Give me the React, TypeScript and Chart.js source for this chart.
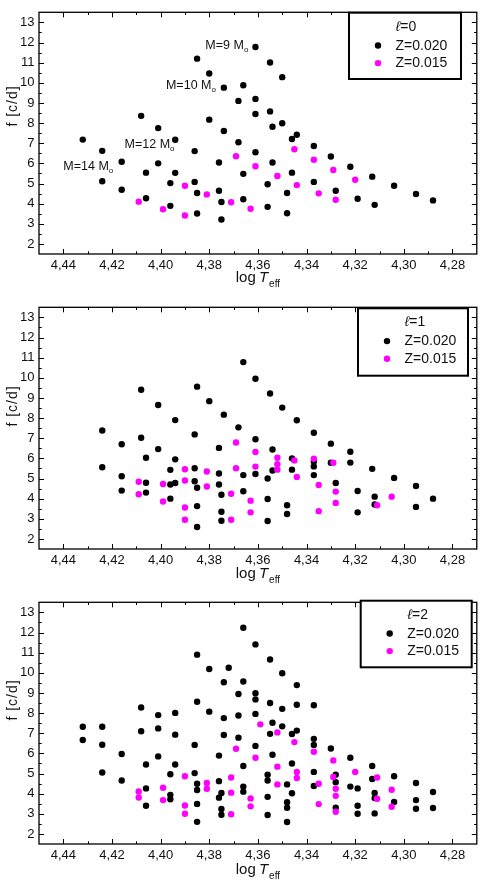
import React, { useEffect, useRef } from "react";
import { Chart, registerables } from "chart.js";

Chart.register(...registerables);

// ---------- axes ----------
const X_MIN = 4.27;
const X_MAX = 4.45;
const Y_MIN = 1.5;
const Y_MAX = 13.5;
const X_TICKS = [4.44, 4.42, 4.4, 4.38, 4.36, 4.34, 4.32, 4.3, 4.28];
const Y_TICKS = [2, 3, 4, 5, 6, 7, 8, 9, 10, 11, 12, 13];
const X_MINOR = [4.43, 4.41, 4.39, 4.37, 4.35, 4.33, 4.31, 4.29];
const Y_MINOR = [2.5, 3.5, 4.5, 5.5, 6.5, 7.5, 8.5, 9.5, 10.5, 11.5, 12.5];

const SERIES_LABELS = ["Z=0.020", "Z=0.015"];
const SERIES_COLORS = ["#000000", "#ff00ff"];
const ELL_LABELS = ["0", "1", "2"];

// ---------- l = 0 ----------
const L0_Z020: [number, number][] = [
  [4.432, 7.18], [4.424, 6.62], [4.424, 5.11], [4.416, 6.08], [4.416, 4.69],
  [4.408, 8.36], [4.406, 5.54], [4.406, 4.27], [4.401, 7.75], [4.401, 6.0],
  [4.394, 7.17], [4.394, 5.53], [4.396, 5.02], [4.396, 3.89], [4.385, 11.2],
  [4.386, 6.61], [4.386, 5.08], [4.385, 4.53], [4.385, 3.51], [4.38, 10.46],
  [4.38, 8.17], [4.376, 6.04], [4.376, 4.64], [4.375, 4.08], [4.375, 3.21],
  [4.374, 9.76], [4.374, 7.61], [4.368, 9.1], [4.368, 7.05], [4.366, 9.88],
  [4.366, 5.48], [4.366, 4.22], [4.361, 11.78], [4.361, 9.2], [4.361, 8.45],
  [4.361, 6.55], [4.355, 11.01], [4.355, 8.58], [4.354, 7.82], [4.354, 6.04],
  [4.356, 4.96], [4.356, 3.84], [4.35, 10.28], [4.35, 7.99], [4.348, 4.53],
  [4.348, 3.52], [4.346, 7.21], [4.344, 7.42], [4.346, 5.54], [4.337, 6.86],
  [4.337, 5.08], [4.33, 6.34], [4.328, 4.64], [4.322, 5.83], [4.319, 4.24],
  [4.313, 5.34], [4.312, 3.94], [4.304, 4.89], [4.295, 4.48], [4.288, 4.16],
];
const L0_Z015: [number, number][] = [
  [4.409, 4.1], [4.399, 3.72], [4.39, 4.89], [4.39, 3.41], [4.381, 4.46],
  [4.371, 4.07], [4.369, 6.35], [4.363, 3.75], [4.361, 5.86], [4.352, 5.37],
  [4.345, 6.7], [4.344, 4.92], [4.337, 6.18], [4.335, 4.51], [4.329, 5.67],
  [4.328, 4.19], [4.32, 5.19],
];

// ---------- l = 1 ----------
const L1_Z020: [number, number][] = [
  [4.424, 7.38], [4.424, 5.56], [4.416, 6.7], [4.416, 5.11], [4.416, 4.4],
  [4.408, 9.41], [4.408, 7.02], [4.406, 6.03], [4.406, 4.79], [4.406, 4.3],
  [4.401, 8.65], [4.401, 6.46], [4.394, 7.9], [4.394, 5.95], [4.396, 5.43],
  [4.396, 4.7], [4.394, 4.78], [4.396, 4.0], [4.385, 9.56], [4.386, 7.19],
  [4.386, 5.51], [4.386, 4.86], [4.385, 4.54], [4.385, 3.63], [4.385, 2.59],
  [4.38, 8.84], [4.376, 6.52], [4.376, 5.25], [4.376, 4.7], [4.375, 4.19],
  [4.375, 3.35], [4.375, 2.9], [4.374, 8.17], [4.368, 7.54], [4.366, 10.78],
  [4.366, 5.17], [4.366, 4.37], [4.361, 9.95], [4.361, 6.95], [4.361, 5.22],
  [4.355, 9.22], [4.354, 6.44], [4.354, 5.4], [4.356, 5.0], [4.356, 3.98],
  [4.356, 2.89], [4.35, 8.52], [4.348, 3.67], [4.348, 3.24], [4.346, 6.0],
  [4.346, 5.44], [4.344, 7.89], [4.337, 7.27], [4.337, 5.84], [4.337, 5.6],
  [4.337, 5.17], [4.33, 6.73], [4.33, 5.78], [4.328, 4.78], [4.322, 6.33],
  [4.322, 5.79], [4.319, 4.38], [4.319, 3.32], [4.313, 5.48], [4.312, 4.1],
  [4.312, 3.71], [4.304, 5.03], [4.295, 4.63], [4.295, 3.59], [4.288, 4.0],
];
const L1_Z015: [number, number][] = [
  [4.409, 4.84], [4.409, 4.22], [4.399, 4.73], [4.399, 3.86], [4.39, 5.46],
  [4.39, 4.9], [4.39, 3.56], [4.39, 2.95], [4.381, 5.35], [4.381, 4.6],
  [4.371, 4.24], [4.371, 2.95], [4.369, 6.79], [4.369, 5.51], [4.363, 3.9],
  [4.363, 3.32], [4.361, 6.32], [4.361, 5.59], [4.352, 6.03], [4.352, 5.71],
  [4.352, 5.44], [4.345, 5.9], [4.344, 5.08], [4.337, 5.98], [4.335, 4.68],
  [4.335, 3.38], [4.329, 5.78], [4.328, 4.35], [4.328, 3.79], [4.311, 3.67],
  [4.305, 4.1],
];

// ---------- l = 2 ----------
const L2_Z020: [number, number][] = [
  [4.432, 7.32], [4.432, 6.66], [4.424, 7.32], [4.424, 6.43], [4.424, 5.05],
  [4.416, 5.97], [4.416, 4.65], [4.408, 8.28], [4.408, 7.1], [4.406, 5.45],
  [4.406, 4.26], [4.406, 3.4], [4.401, 7.9], [4.401, 7.24], [4.401, 5.85],
  [4.394, 8.01], [4.394, 6.93], [4.394, 5.45], [4.396, 4.96], [4.396, 3.94],
  [4.396, 3.72], [4.385, 10.9], [4.385, 8.56], [4.386, 6.42], [4.386, 5.02],
  [4.385, 4.49], [4.385, 4.18], [4.385, 3.49], [4.385, 2.6], [4.38, 10.19],
  [4.38, 8.07], [4.376, 5.89], [4.376, 4.62], [4.376, 3.8], [4.375, 4.03],
  [4.375, 3.24], [4.375, 2.95], [4.374, 9.53], [4.374, 7.75], [4.374, 6.91],
  [4.372, 10.25], [4.368, 8.95], [4.368, 7.88], [4.368, 6.78], [4.366, 12.24],
  [4.366, 9.57], [4.366, 5.37], [4.366, 4.35], [4.366, 4.1], [4.361, 11.41],
  [4.361, 8.99], [4.361, 8.68], [4.361, 7.96], [4.361, 6.37], [4.355, 10.66],
  [4.355, 8.5], [4.354, 7.52], [4.355, 6.97], [4.354, 5.93], [4.356, 4.94],
  [4.356, 4.65], [4.356, 3.84], [4.356, 2.94], [4.35, 9.98], [4.35, 8.21],
  [4.35, 7.34], [4.348, 4.46], [4.348, 3.57], [4.348, 3.3], [4.348, 2.59],
  [4.346, 6.96], [4.346, 5.5], [4.346, 4.02], [4.344, 9.39], [4.344, 8.41],
  [4.344, 7.13], [4.337, 8.39], [4.337, 6.72], [4.337, 6.42], [4.337, 5.08],
  [4.337, 4.38], [4.33, 6.24], [4.328, 4.94], [4.328, 4.57], [4.328, 3.3],
  [4.322, 5.78], [4.322, 4.35], [4.319, 4.26], [4.319, 3.4], [4.319, 3.0],
  [4.313, 5.37], [4.313, 4.73], [4.312, 4.03], [4.312, 3.78], [4.312, 3.02],
  [4.304, 4.86], [4.304, 3.59], [4.295, 4.53], [4.295, 3.68], [4.295, 3.25],
  [4.288, 4.08], [4.288, 3.29],
];
const L2_Z015: [number, number][] = [
  [4.409, 4.11], [4.409, 3.81], [4.399, 4.29], [4.399, 3.68], [4.39, 4.86],
  [4.39, 3.41], [4.39, 3.0], [4.381, 4.53], [4.381, 4.24], [4.371, 4.8],
  [4.371, 4.05], [4.371, 2.98], [4.369, 6.23], [4.363, 3.76], [4.363, 3.37],
  [4.359, 7.44], [4.361, 5.78], [4.352, 7.04], [4.352, 5.34], [4.352, 4.46],
  [4.345, 6.56], [4.344, 5.08], [4.344, 4.78], [4.337, 6.08], [4.335, 4.49],
  [4.335, 3.48], [4.329, 5.65], [4.329, 4.83], [4.328, 4.24], [4.328, 3.89],
  [4.328, 3.1], [4.32, 5.08], [4.311, 4.8], [4.311, 3.75], [4.305, 4.19],
  [4.305, 3.35],
];

// mass-track annotations (panel l=0): label mass, left x value, baseline y value
const MASS_LABELS = ["M=9 M", "M=10 M", "M=12 M", "M=14 M"];
const MASS_LABEL_X = [4.3816, 4.3978, 4.4148, 4.44];
const MASS_LABEL_Y = [11.7, 9.71, 6.77, 5.65];

const FONT = "'Liberation Sans', Arial, Helvetica, sans-serif";

type Panel = {
  top: number;
  height: number;
  series: [number, number][][];
  ell: string;
  box: { x: number; y: number; w: number; h: number };
  yTitleCenter: number;
  xTitleBase: number;
  annotate: boolean;
};

const PANELS: Panel[] = [
  { top: 0, height: 295, series: [L0_Z020, L0_Z015], ell: ELL_LABELS[0], box: { x: 349, y: 12.7, w: 112, h: 66.3 }, yTitleCenter: 106, xTitleBase: 282, annotate: true },
  { top: 295, height: 295, series: [L1_Z020, L1_Z015], ell: ELL_LABELS[1], box: { x: 358, y: 13.3, w: 110, h: 67.4 }, yTitleCenter: 111, xTitleBase: 283, annotate: false },
  { top: 590, height: 292, series: [L2_Z020, L2_Z015], ell: ELL_LABELS[2], box: { x: 360.7, y: 10.7, w: 111, h: 66.6 }, yTitleCenter: 110, xTitleBase: 284, annotate: false },
];

const PLOT_TOP = 3;
const PLOT_BOTTOM = 254;

function makeDecor(panel: Panel) {
  return {
    id: "decor",
    afterDraw(chart: any) {
      const ctx: CanvasRenderingContext2D = chart.ctx;
      const { left, right, top, bottom } = chart.chartArea;
      const xs = chart.scales.x;
      const ys = chart.scales.y;
      ctx.save();
      // frame
      ctx.strokeStyle = "#000";
      ctx.lineWidth = 1.3;
      ctx.strokeRect(left, top, right - left, bottom - top);
      // ticks (inward)
      ctx.lineWidth = 1;
      ctx.beginPath();
      const tickX = (v: number, len: number) => {
        const p = Math.round(xs.getPixelForValue(v)) + 0.5;
        ctx.moveTo(p, bottom);
        ctx.lineTo(p, bottom - len);
        ctx.moveTo(p, top);
        ctx.lineTo(p, top + len);
      };
      const tickY = (v: number, len: number) => {
        const p = Math.round(ys.getPixelForValue(v)) + 0.5;
        ctx.moveTo(left, p);
        ctx.lineTo(left + len, p);
        ctx.moveTo(right, p);
        ctx.lineTo(right - len, p);
      };
      X_TICKS.forEach((v) => tickX(v, 5));
      X_MINOR.forEach((v) => tickX(v, 2.7));
      Y_TICKS.forEach((v) => tickY(v, 5));
      Y_MINOR.forEach((v) => tickY(v, 2.7));
      ctx.stroke();

      // y title
      ctx.fillStyle = "#111";
      ctx.save();
      ctx.translate(13, panel.yTitleCenter);
      ctx.rotate(-Math.PI / 2);
      ctx.font = `14px ${FONT}`;
      (ctx as any).letterSpacing = "1px";
      ctx.textAlign = "center";
      ctx.textBaseline = "middle";
      ctx.fillText("f [c/d]", 0, 0);
      ctx.restore();

      // x title: log T_eff
      const base = panel.xTitleBase;
      ctx.textBaseline = "alphabetic";
      ctx.textAlign = "left";
      const f1 = `15px ${FONT}`;
      const f2 = `italic 15px ${FONT}`;
      const f3 = `10px ${FONT}`;
      ctx.font = f1;
      const w1 = ctx.measureText("log ").width;
      ctx.font = f2;
      const w2 = ctx.measureText("T").width;
      ctx.font = f3;
      const w3 = ctx.measureText("eff").width;
      let cx = (left + right) / 2 - (w1 + w2 + w3) / 2;
      ctx.font = f1;
      ctx.fillText("log ", cx, base);
      cx += w1 - 1;
      ctx.font = f2;
      ctx.fillText("T", cx, base);
      cx += w2 + 1;
      ctx.font = f3;
      ctx.fillText("eff", cx, base + 5);

      // legend box
      const b = panel.box;
      ctx.lineWidth = 2;
      ctx.strokeStyle = "#000";
      ctx.fillStyle = "#fff";
      ctx.fillRect(b.x, b.y, b.w, b.h);
      ctx.strokeRect(b.x, b.y, b.w, b.h);
      ctx.fillStyle = "#111";
      ctx.textBaseline = "middle";
      ctx.font = `italic 14px ${FONT}`;
      const wl = ctx.measureText("ℓ").width;
      ctx.font = `14px ${FONT}`;
      const we = ctx.measureText("=" + panel.ell).width;
      let lx = b.x + 57 - (wl + we) / 2;
      ctx.font = `italic 14px ${FONT}`;
      ctx.fillText("ℓ", lx, b.y + 14);
      ctx.font = `14px ${FONT}`;
      ctx.fillText("=" + panel.ell, lx + wl, b.y + 14);
      SERIES_LABELS.forEach((lab, i) => {
        const yy = b.y + 32.8 + i * 17.6;
        ctx.fillStyle = SERIES_COLORS[i];
        ctx.beginPath();
        ctx.arc(b.x + 29, yy, 3.2, 0, Math.PI * 2);
        ctx.fill();
        ctx.fillStyle = "#111";
        ctx.font = `14px ${FONT}`;
        ctx.fillText(lab, b.x + 46.5, yy + 0.5);
      });

      // mass annotations
      if (panel.annotate) {
        ctx.textBaseline = "alphabetic";
        MASS_LABELS.forEach((lab, i) => {
          const px = xs.getPixelForValue(MASS_LABEL_X[i]);
          const py = ys.getPixelForValue(MASS_LABEL_Y[i]);
          ctx.font = `12.5px ${FONT}`;
          ctx.fillStyle = "#111";
          ctx.fillText(lab, px, py);
          const w = ctx.measureText(lab).width;
          ctx.font = `8px ${FONT}`;
          ctx.fillText("o", px + w, py + 3);
        });
      }
      ctx.restore();
    },
  };
}

function PanelChart({ panel }: { panel: Panel }) {
  const ref = useRef<HTMLCanvasElement | null>(null);
  useEffect(() => {
    if (!ref.current) return;
    const datasets = panel.series.map((s, i) => ({
      label: SERIES_LABELS[i],
      data: s.map(([x, y]) => ({ x, y })),
      backgroundColor: SERIES_COLORS[i],
      borderWidth: 0,
      pointRadius: 3.2,
      pointHoverRadius: 3.2,
      order: i === 0 ? 1 : 0,
    }));
    const chart = new Chart(ref.current, {
      type: "scatter",
      data: { datasets },
      options: {
        animation: false,
        responsive: false,
        devicePixelRatio: 1,
        events: [],
        layout: { padding: { left: 0, right: 3, top: PLOT_TOP, bottom: 0 } },
        plugins: { legend: { display: false }, tooltip: { enabled: false } },
        scales: {
          x: {
            type: "linear",
            min: X_MIN,
            max: X_MAX,
            reverse: true,
            grid: { display: false, drawTicks: false },
            border: { display: false },
            afterBuildTicks: (scale: any) => {
              scale.ticks = X_TICKS.map((v) => ({ value: v }));
            },
            afterFit: (scale: any) => {
              scale.height = panel.height - PLOT_BOTTOM;
            },
            ticks: {
              autoSkip: false,
              maxRotation: 0,
              padding: 4,
              color: "#111",
              font: { family: FONT, size: 13 },
              callback: (v: any) => Number(v).toFixed(2).replace(".", ","),
            },
          },
          y: {
            type: "linear",
            min: Y_MIN,
            max: Y_MAX,
            grid: { display: false, drawTicks: false },
            border: { display: false },
            afterBuildTicks: (scale: any) => {
              scale.ticks = Y_TICKS.map((v) => ({ value: v }));
            },
            afterFit: (scale: any) => {
              scale.width = 39;
            },
            ticks: {
              autoSkip: false,
              padding: 4.5,
              color: "#111",
              font: { family: FONT, size: 13 },
              callback: (v: any) => String(v),
            },
          },
        },
      },
      plugins: [makeDecor(panel)],
    } as any);
    return () => chart.destroy();
  }, [panel]);
  return (
    <canvas
      ref={ref}
      width={480}
      height={panel.height}
      style={{ position: "absolute", left: 0, top: panel.top, width: 480, height: panel.height, display: "block" }}
    />
  );
}

export default function App() {
  return (
    <div style={{ position: "absolute", left: 0, top: 0, width: 480, height: 882, background: "#fff" }}>
      {PANELS.map((p, i) => (
        <PanelChart key={i} panel={p} />
      ))}
    </div>
  );
}
